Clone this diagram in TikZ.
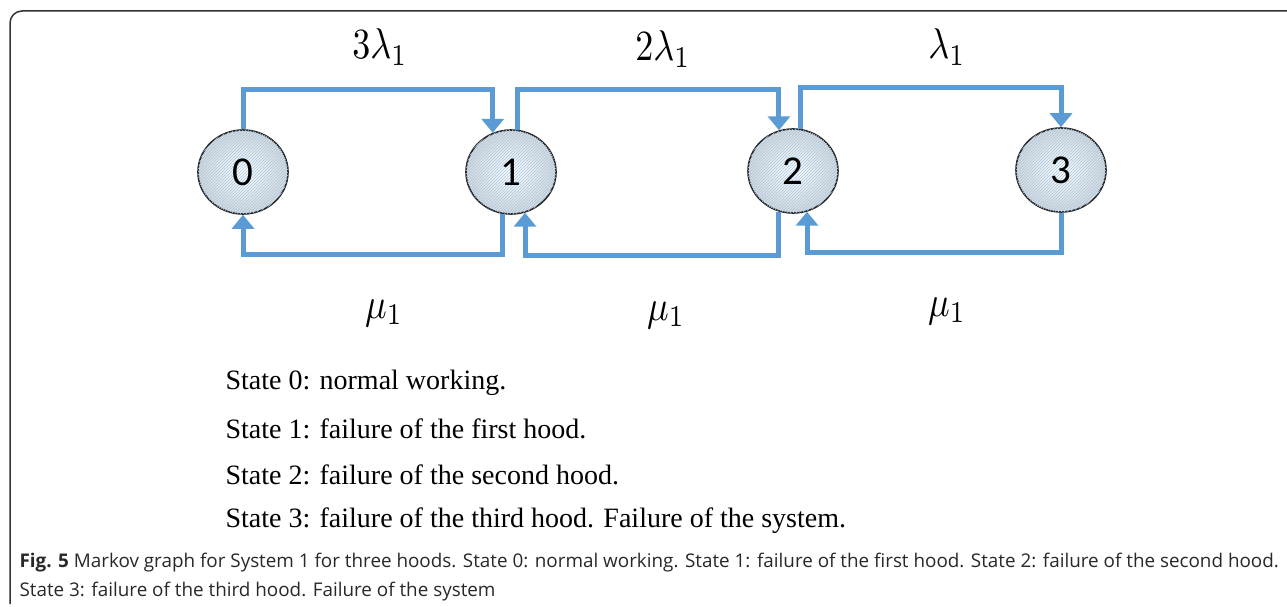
\documentclass[tikz,border=0pt]{standalone}
\usepackage{fontspec}
\setmainfont{Liberation Serif}
\newfontfamily\capfont{Open Sans}
\newfontfamily\numfont{Carlito}
\usetikzlibrary{shapes.geometric,arrows.meta,patterns}
\definecolor{arrblue}{RGB}{91,155,213}
\definecolor{capgray}{RGB}{40,40,40}
\newcommand{\bigrate}[1]{\scalebox{3.6}[4.3]{$#1$}}
\begin{document}
\begin{tikzpicture}[x=1pt,y=-1pt,
  state/.style={ellipse,draw=black!85,line width=1.6pt,minimum width=90pt,minimum height=84pt,
    inner color=white,outer color=black!16,
    postaction={pattern=north east lines,pattern color=arrblue!55},
    font=\numfont\fontsize{41}{41}\selectfont},
  arr/.style={draw=arrblue,line width=5pt,-{Triangle[width=22pt,length=14pt]}},
  rate/.style={inner sep=0pt},
  desc/.style={anchor=west,font=\fontsize{28}{30}\selectfont},
  captext/.style={anchor=west,font=\capfont\fontsize{18.85}{20}\selectfont,text=capgray}]
\useasboundingbox (0,0) rectangle (1287,607);
\draw[black!80,line width=1.5pt,rounded corners=12pt] (10,604) -- (10,11) -- (1287,11);

\node[state] (n0) at (243,172) {0};
\node[state] (n1) at (511,172) {1};
\node[state] (n2) at (793,171) {2};
\node[state] (n3) at (1061,170) {3};

\draw[arr] (n0.north) -- (n0.north |- 0,90) -| (n1.115);
\draw[arr] (n1.81) -- (n1.81 |- 0,90) -| (n2.109);
\draw[arr] (n2.80) -- (n2.80 |- 0,88) -| (n3.north);
\draw[arr] (n1.259) -- (n1.259 |- 0,254) -| (n0.south);
\draw[arr] (n2.251) -- (n2.251 |- 0,255) -| (n1.289);
\draw[arr] (n3.south) -- (n3.south |- 0,252) -| (n2.289);

\node[rate] (l01) at (380,47) {\bigrate{3\lambda_1}};
\node[rate] (l12) at (663,49) {\bigrate{2\lambda_1}};
\node[rate] (l23) at (947,47) {\bigrate{\lambda_1}};
\node[rate] (m10) at (384,313) {\bigrate{\mu_1}};
\node[rate] (m21) at (666,315) {\bigrate{\mu_1}};
\node[rate] (m32) at (947,311) {\bigrate{\mu_1}};

\node[desc] (s0) at (222,383) {State 0: normal working.};
\node[desc] (s1) at (222,429) {State 1: failure of the first hood.};
\node[desc] (s2) at (222,475) {State 2: failure of the second hood.};
\node[desc] (s3) at (222,521) {State 3: failure of the third hood. Failure of the system.};

\node[captext] (c1) at (16,563) {\textbf{Fig. 5} Markov graph for System 1 for three hoods. State 0: normal working. State 1: failure of the first hood. State 2: failure of the second hood.};
\node[captext] (c2) at (16,592) {State 3: failure of the third hood. Failure of the system};
\end{tikzpicture}
\end{document}
